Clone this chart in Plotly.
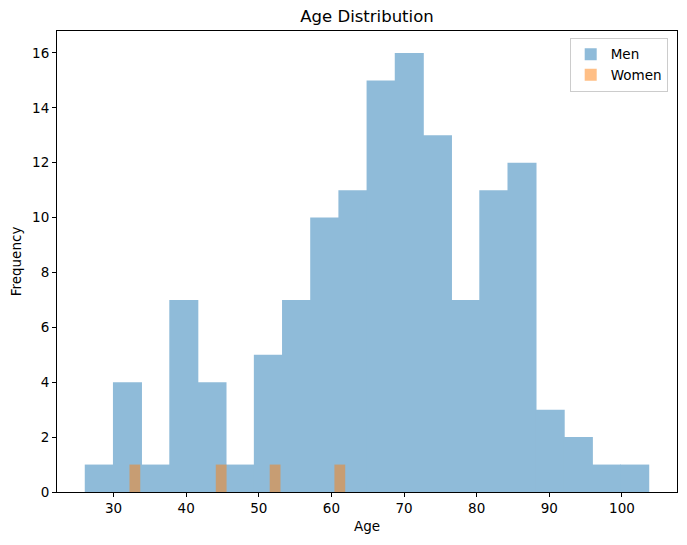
import numpy as np
import plotly.graph_objects as go

# Men histogram: 20 bins between min and max age
men_range = [26.1, 103.7]
men_counts = [1, 4, 1, 7, 4, 1, 5, 7, 10, 11, 15, 16, 13, 7, 11, 12, 3, 2, 1, 1]

# Women histogram: 20 bins between min and max age
women_range = [32.2, 61.9]
women_counts = [1, 0, 0, 0, 0, 0, 0, 0, 1, 0, 0, 0, 0, 1, 0, 0, 0, 0, 0, 1]

x_ticks = [30, 40, 50, 60, 70, 80, 90, 100]
y_ticks = [0, 2, 4, 6, 8, 10, 12, 14, 16]


def bins(rng, counts):
    edges = np.linspace(rng[0], rng[1], len(counts) + 1)
    centers = (edges[:-1] + edges[1:]) / 2
    widths = np.diff(edges)
    return centers, widths


mc, mw = bins(men_range, men_counts)
wc, ww = bins(women_range, women_counts)

fig = go.Figure()
# men: opaque equivalent of tab:blue at alpha 0.5 on white; slight overlap hides seams
fig.add_trace(go.Bar(x=mc, y=men_counts, width=mw * 1.03, name="Men",
                     marker=dict(color="#8fbbd9", line=dict(width=0))))
fig.add_trace(go.Bar(x=wc, y=women_counts, width=ww, name="Women",
                     marker=dict(color="rgba(255,127,14,0.5)", line=dict(width=0))))

font = dict(family="DejaVu Sans", size=13.5, color="black")
fig.update_layout(
    barmode="overlay",
    width=687, height=545,
    margin=dict(l=49, r=18, t=23, b=61),
    paper_bgcolor="white", plot_bgcolor="white",
    font=font,
    title=dict(text="Age Distribution", x=0.5, xanchor="center", y=0.985, yanchor="middle",
               xref="paper",
               font=dict(family="DejaVu Sans", size=16.5, color="black")),
    legend=dict(x=0.985, y=0.985, xanchor="right", yanchor="top",
                bordercolor="#cccccc", borderwidth=1, bgcolor="rgba(255,255,255,0.8)",
                font=dict(family="DejaVu Sans", size=13.5)),
    showlegend=True,
)
fig.update_xaxes(range=[22.22, 107.58], tickvals=x_ticks, showgrid=False, zeroline=False,
                 showline=True, linecolor="black", linewidth=1, mirror=True,
                 ticks="outside", ticklen=4, tickcolor="black", automargin=False,
                 title=dict(text="Age", font=font, standoff=6))
fig.update_yaxes(range=[0, 16.8], tickvals=y_ticks, showgrid=False, zeroline=False,
                 showline=True, linecolor="black", linewidth=1, mirror=True,
                 ticks="outside", ticklen=4, tickcolor="black", automargin=False,
                 title=dict(text="Frequency", font=font, standoff=8))

fig.write_html("out.html")
